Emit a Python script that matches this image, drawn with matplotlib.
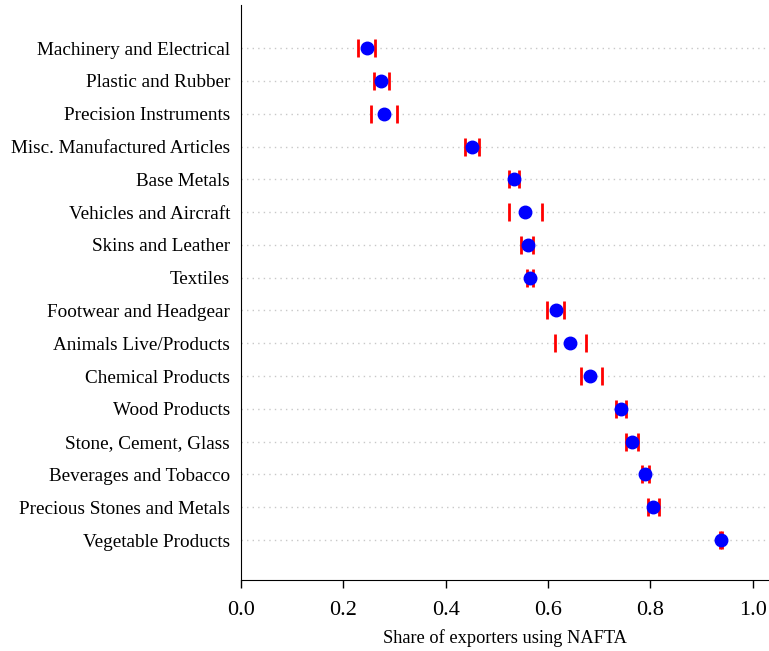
import matplotlib
matplotlib.use("Agg")
import matplotlib.pyplot as plt

categories = [
    "Machinery and Electrical", "Plastic and Rubber", "Precision Instruments",
    "Misc. Manufactured Articles", "Base Metals", "Vehicles and Aircraft",
    "Skins and Leather", "Textiles", "Footwear and Headgear",
    "Animals Live/Products", "Chemical Products", "Wood Products",
    "Stone, Cement, Glass", "Beverages and Tobacco",
    "Precious Stones and Metals", "Vegetable Products",
]
share = [0.247, 0.274, 0.279, 0.451, 0.534, 0.556, 0.560, 0.565,
         0.616, 0.643, 0.683, 0.742, 0.765, 0.790, 0.806, 0.939]
ci_low = [0.229, 0.260, 0.254, 0.438, 0.524, 0.523, 0.548, 0.558,
          0.599, 0.613, 0.665, 0.732, 0.753, 0.783, 0.796, 0.937]
ci_high = [0.262, 0.289, 0.304, 0.465, 0.544, 0.589, 0.570, 0.571,
           0.632, 0.674, 0.705, 0.753, 0.775, 0.797, 0.816, 0.941]
xticks = [0.0, 0.2, 0.4, 0.6, 0.8, 1.0]

plt.rcParams["font.family"] = ["Liberation Serif", "DejaVu Serif"]

fig = plt.figure(figsize=(7.69, 6.51), dpi=100)
ax = fig.add_axes([0.3134, 0.109, 0.686, 0.883])

y = list(range(len(categories)))
for yi in y:
    ax.axhline(yi, color="#c8c8c8", linestyle=(0, (1, 3)), linewidth=1.0, zorder=0)

# confidence bounds drawn as vertical caps only
ax.plot(ci_low, y, linestyle="none", marker="|", color="red",
        markersize=12.5, markeredgewidth=2, zorder=2)
ax.plot(ci_high, y, linestyle="none", marker="|", color="red",
        markersize=12.5, markeredgewidth=2, zorder=2)
ax.plot(share, y, linestyle="none", marker="o", color="blue",
        markersize=9, zorder=3)

ax.set_yticks(y)
ax.set_yticklabels(categories, fontsize=13.8)
ax.tick_params(axis="y", length=0, pad=8)
ax.set_ylim(len(categories) - 1 + 1.22, -1.31)

ax.set_xlim(0, 1.031)
ax.set_xticks(xticks)
ax.set_xticklabels([f"{t:.1f}" for t in xticks], fontsize=16)
ax.tick_params(axis="x", length=6, width=1, pad=9)
ax.set_xlabel("Share of exporters using NAFTA", fontsize=13.2, labelpad=7)

ax.spines["top"].set_visible(False)
ax.spines["right"].set_visible(False)

fig.savefig("out.png", dpi=100, facecolor="white")
